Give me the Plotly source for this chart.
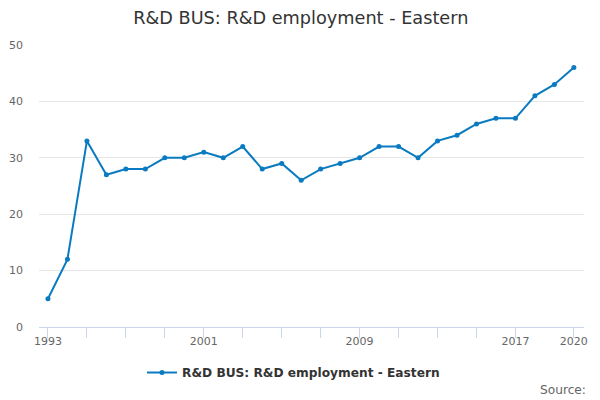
import plotly.graph_objects as go

# R&D employment - Eastern, 1993-2020
years = list(range(1993, 2021))
employment = [5, 12, 33, 27, 28, 28, 30, 30, 31, 30, 32, 28, 29, 26, 28, 29,
              30, 32, 32, 30, 33, 34, 36, 37, 37, 41, 43, 46]

tick_years = list(range(1993, 2018, 2)) + [2020]
tick_labels = [str(y) if y in (1993, 2001, 2009, 2017, 2020) else "" for y in tick_years]

font_family = "DejaVu Sans, Verdana, sans-serif"
line_color = "#0b7bc1"

fig = go.Figure()
fig.add_trace(
    go.Scatter(
        x=years,
        y=employment,
        mode="lines+markers",
        name="R&D BUS: R&D employment - Eastern",
        line=dict(color=line_color, width=2),
        marker=dict(color=line_color, size=5),
    )
)

# page body has an 8px margin, so margins are shifted to compensate
fig.update_layout(
    width=600,
    height=400,
    margin=dict(l=31, r=24, t=37, b=81),
    paper_bgcolor="white",
    plot_bgcolor="white",
    font=dict(family=font_family, color="#666666", size=11),
    title=dict(
        text="R&D BUS: R&D employment - Eastern",
        xref="container",
        x=0.488,
        xanchor="center",
        y=0.975,
        yanchor="middle",
        font=dict(size=17.7, color="#333333"),
    ),
    showlegend=True,
    legend=dict(
        orientation="h",
        x=0.467,
        xanchor="center",
        y=-0.11,
        yanchor="top",
        itemwidth=30,
        font=dict(size=12.2, color="#333333", weight="bold"),
    ),
    xaxis=dict(
        range=[1992.54, 2020.52],
        tickvals=tick_years,
        ticktext=tick_labels,
        ticks="outside",
        ticklen=10,
        tickcolor="#ccd6eb",
        ticklabelstandoff=-6,
        showline=True,
        linecolor="#ccd6eb",
        showgrid=False,
        zeroline=False,
        automargin=False,
    ),
    yaxis=dict(
        range=[0, 50],
        tickvals=[0, 10, 20, 30, 40, 50],
        showgrid=True,
        gridcolor="#e6e6e6",
        zeroline=False,
        ticks="",
        ticklabelstandoff=15,
        automargin=False,
    ),
    annotations=[
        dict(
            text="Source:",
            xref="paper",
            yref="paper",
            x=1.007,
            y=-0.223,
            xanchor="right",
            yanchor="middle",
            showarrow=False,
            font=dict(size=12.2, color="#666666"),
        )
    ],
)

fig.write_html("out.html")
